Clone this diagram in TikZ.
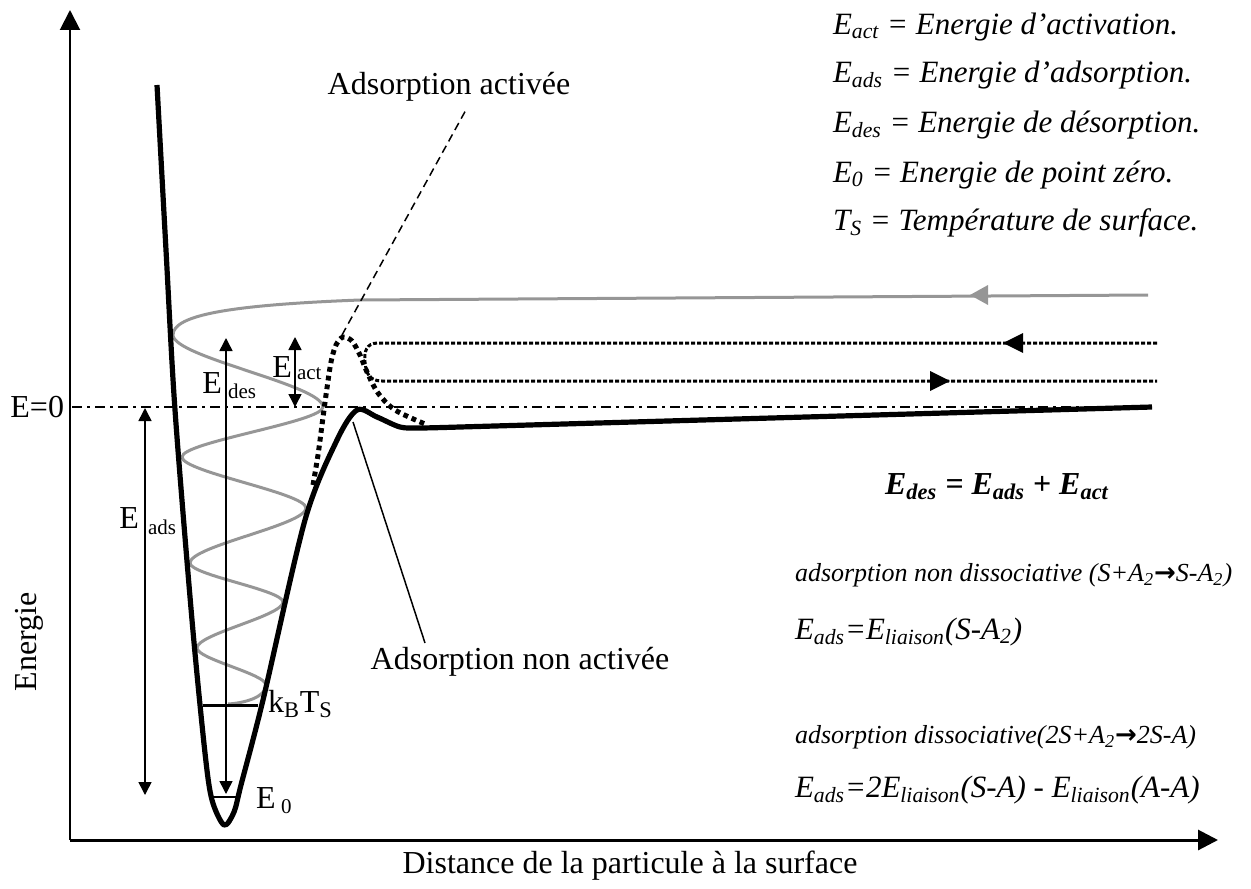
\documentclass[tikz,border=0pt]{standalone}
\usepackage{fontspec}
\setmainfont{Liberation Serif}
\newfontfamily\arrowfont{DejaVu Sans}
\usetikzlibrary{arrows.meta}
\definecolor{wavegray}{RGB}{150,150,150}
\begin{document}
\begin{tikzpicture}[x=0.5pt,y=-0.5pt,
  every node/.style={inner sep=0pt, outer sep=0pt, font=\fontsize{16}{19}\selectfont},
  axisline/.style={line width=1pt, -{Triangle[width=10pt,length=10pt]}},
  potline/.style={line width=2.6pt, line join=round},
  actpot/.style={line width=2.5pt, dash pattern=on 2.4pt off 2pt},
  greywave/.style={draw=wavegray, line width=1.5pt},
  finedot/.style={line width=1.5pt, dash pattern=on 2pt off 1pt},
  darrow/.style={line width=0.75pt, {Triangle[width=6.5pt,length=6.5pt]}-{Triangle[width=6.5pt,length=6.5pt]}},
  zeroline/.style={line width=1pt, dash pattern=on 5pt off 2.5pt on 1.5pt off 2.5pt},
  pointer/.style={line width=0.75pt},
  sublbl/.style={font=\fontsize{10.5}{12}\selectfont},
  legend/.style={anchor=west, font=\fontsize{15.5}{18}\selectfont\itshape},
  smalllegend/.style={anchor=west, font=\fontsize{13}{15}\selectfont\itshape}
]
\useasboundingbox (0,0) rectangle (1251,888);

% axes
\coordinate (O) at (70,840);
\coordinate (ytop) at (70,10);
\coordinate (xend) at (1218,840);
\draw[axisline] (O) -- (ytop);
\draw[axisline, line width=1.5pt] (O) -- (xend);

% E=0 line
\coordinate (z0) at (72,407);
\coordinate (z1) at (1150,407);
\draw[zeroline] (z0) -- (z1);

% grey wave (incoming particle)
\draw[greywave] (1148,295) -- (360,300) .. controls (230,305) and (173,315) .. (173,335)
 .. controls (173,357) and (323,385) .. (323,407)
 .. controls (323,422) and (182,442) .. (182,457)
 .. controls (182,472) and (306,493) .. (306,508)
 .. controls (306,525) and (190,546) .. (190,563)
 .. controls (190,575) and (283,590) .. (283,602)
 .. controls (283,616) and (197,634) .. (197,648)
 .. controls (197,659) and (266,674) .. (266,685)
 .. controls (266,697) and (245,703) .. (228,704);
\fill[wavegray] (970,295) -- (988,285) -- (988,305) -- cycle;

% fine dotted hairpin
\draw[finedot] (1157,343) -- (378,343) .. controls (366,343) and (364,352) .. (365,362)
  .. controls (366,374) and (370,381) .. (382,381) -- (1157,381);
\fill (1003,343) -- (1023,333) -- (1023,353) -- cycle;
\fill (950,381) -- (930,371) -- (930,391) -- cycle;

% potential curve (non activated)
\draw[potline] plot[smooth, tension=0.5] coordinates {(157,85) (166,250) (175,410) (192,620) (205,753) (212,800) (224,825) (234,812) (241,785) (263,700) (305,520) (337,440) (357,410) (377,417) (400,427) (420,428) (460,427)} -- (1152,407);

% activated potential
\draw[actpot] plot[smooth, tension=0.5] coordinates {(313,485) (318,455) (322,425) (326,395) (331,362) (336,345) (343,337) (352,341) (360,355) (367,372) (378,393) (395,410) (425,424)};

% energy arrows
\draw[darrow] (226,338) -- (226,794);
\draw[darrow] (295,337) -- (295,407);
\draw[darrow] (145,408) -- (145,795);
\draw[line width=1.5pt] (203,705) -- (258,705);
\draw[line width=1pt] (214,797) -- (237,797);

% labels on arrows
\node[anchor=east] (Edes) at (222,383) {E};
\node[sublbl, anchor=west] (Edess) at (228,391) {des};
\node[anchor=east] (Eact) at (292,367) {E};
\node[sublbl, anchor=west] (Eacts) at (297,374) {act};
\node[anchor=east] (Eads) at (139,518) {E};
\node[sublbl, anchor=west] (Eadss) at (148,527) {ads};
\node[anchor=west] (kbt) at (268,704) {k\textsubscript{B}T\textsubscript{S}};
\node[anchor=west] (E0) at (256,798) {E};
\node[sublbl, anchor=west] (E0s) at (281,807) {0};

% axis labels
\node[anchor=east] (ezero) at (64,407) {E=0};
\node[rotate=90] (energie) at (29,642) {Energie};
\node (dist) at (630,866) {Distance de la particule à la surface};

% pointers
\node (actlbl) at (449,87) {Adsorption activée};
\coordinate (actpeak) at (342,335);
\coordinate (actend) at (467,108);
\draw[pointer, dash pattern=on 4pt off 2.5pt] (actpeak) -- (actend);
\node (nonlbl) at (520,662) {Adsorption non activée};
\coordinate (nonpeak) at (353,422);
\coordinate (nonend) at (425,643);
\draw[pointer] (nonpeak) -- (nonend);

% legend
\node[legend] (l1) at (833,27) {E\textsubscript{act} = Energie d’activation.};
\node[legend] (l2) at (833,75) {E\textsubscript{ads} = Energie d’adsorption.};
\node[legend] (l3) at (833,125) {E\textsubscript{des} = Energie de désorption.};
\node[legend] (l4) at (833,175) {E\textsubscript{0} = Energie de point zéro.};
\node[legend] (l5) at (833,223) {T\textsubscript{S} = Température de surface.};

\node[font=\fontsize{16}{19}\selectfont\bfseries\itshape] (form) at (997,487) {E\textsubscript{des} = E\textsubscript{ads} + E\textsubscript{act}};

\node[smalllegend] (nd) at (795,575) {adsorption non dissociative (S+A\textsubscript{2}{\upshape\arrowfont\bfseries →}S-A\textsubscript{2})};
\node[legend] (nde) at (795,632) {E\textsubscript{ads}=E\textsubscript{liaison}(S-A\textsubscript{2})};
\node[smalllegend] (d) at (795,737) {adsorption dissociative(2S+A\textsubscript{2}{\upshape\arrowfont\bfseries →}2S-A)};
\node[legend] (de) at (795,790) {E\textsubscript{ads}=2E\textsubscript{liaison}(S-A) - E\textsubscript{liaison}(A-A)};
\end{tikzpicture}
\end{document}
